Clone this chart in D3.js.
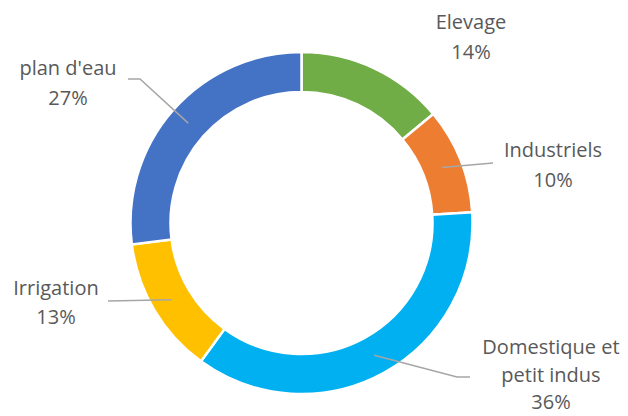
<!DOCTYPE html>
<html><head><meta charset="utf-8">
<script src="https://cdn.jsdelivr.net/npm/d3@7"></script>
<style>html,body{margin:0;padding:0;background:#fff;overflow:hidden}</style>
</head><body>
<svg id="c" width="628" height="416"></svg>
<script>
const categories = ["Elevage", "Industriels", "Domestique et petit indus", "Irrigation", "plan d'eau"];
const values = [14, 10, 36, 13, 27];
const colors = ["#70AD47", "#ED7D31", "#00B0F0", "#FFC000", "#4472C4"];
const labelLines = [["Elevage", "14%"], ["Industriels", "10%"], ["Domestique et", "petit indus", "36%"], ["Irrigation", "13%"], ["plan d'eau", "27%"]];

const cx = 301.5, cy = 223, rOuter = 171, rInner = 131;
// label layout: center x, first baseline y, line spacing, and leader line path end points
const layout = [
  {x: 471, y: 29, dy: 30, line: null},
  {x: 553, y: 157, dy: 30, line: [[493, 163]]},
  {x: 551, y: 354, dy: 27.5, line: [[457, 377], [470, 377]]},
  {x: 56, y: 295, dy: 29, line: [[108, 301]]},
  {x: 68, y: 75, dy: 30, line: [[140, 79], [128, 79]]}
];

const svg = d3.select("#c");
const g = svg.append("g").attr("transform", `translate(${cx},${cy})`);
const pie = d3.pie().sort(null).value(d => d)(values);
const arc = d3.arc().innerRadius(rInner).outerRadius(rOuter);
const mid = d3.arc().innerRadius((rInner + rOuter) / 2).outerRadius((rInner + rOuter) / 2);

g.selectAll("path.slice").data(pie).join("path")
  .attr("class", "slice")
  .attr("d", arc)
  .attr("fill", (d, i) => colors[i])
  .attr("stroke", "#fff").attr("stroke-width", 2.5);

pie.forEach((d, i) => {
  const L = layout[i];
  if (L.line) {
    const c = mid.centroid(d);
    const pts = [[c[0] + cx, c[1] + cy]].concat(L.line);
    svg.append("path")
      .attr("d", d3.line()(pts))
      .attr("fill", "none").attr("stroke", "#a6a6a6").attr("stroke-width", 1.5);
  }
  const t = svg.append("text")
    .attr("x", L.x).attr("y", L.y)
    .attr("text-anchor", "middle")
    .attr("font-family", "'Open Sans', sans-serif")
    .attr("font-size", 20).attr("fill", "#595959");
  labelLines[i].forEach((s, k) => {
    t.append("tspan").attr("x", L.x).attr("dy", k === 0 ? 0 : L.dy).text(s);
  });
});
</script>
</body></html>
